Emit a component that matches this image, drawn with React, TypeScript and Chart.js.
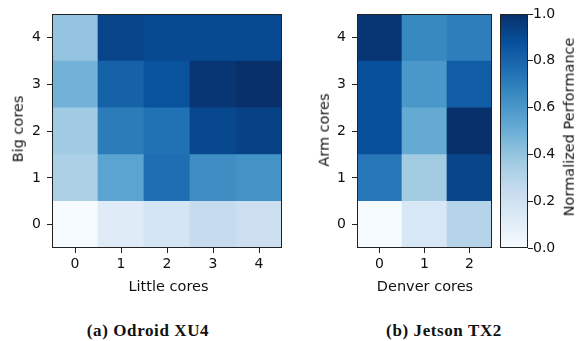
import React, { useEffect, useRef } from "react";
import { Chart, registerables } from "chart.js";

Chart.register(...registerables);

// ---- data ----
const LITTLE_CORES = ["0", "1", "2", "3", "4"];
const DENVER_CORES = ["0", "1", "2"];
const ROW_TICKS = [0, 1, 2, 3, 4];
const CBAR_TICKS = [0, 0.2, 0.4, 0.6, 0.8, 1.0];

// Odroid XU4: one array per "Big cores" row, indexed by little cores
const ODROID_BIG0 = [0.01, 0.12, 0.18, 0.25, 0.22];
const ODROID_BIG1 = [0.33, 0.55, 0.76, 0.64, 0.62];
const ODROID_BIG2 = [0.37, 0.71, 0.75, 0.91, 0.93];
const ODROID_BIG3 = [0.48, 0.81, 0.87, 0.98, 1.0];
const ODROID_BIG4 = [0.4, 0.92, 0.9, 0.9, 0.9];

// Jetson TX2: one array per "Arm cores" row, indexed by denver cores
const JETSON_ARM0 = [0.01, 0.16, 0.3];
const JETSON_ARM1 = [0.73, 0.36, 0.92];
const JETSON_ARM2 = [0.88, 0.52, 1.0];
const JETSON_ARM3 = [0.88, 0.6, 0.83];
const JETSON_ARM4 = [0.98, 0.66, 0.7];

const ODROID_ROWS = [ODROID_BIG0, ODROID_BIG1, ODROID_BIG2, ODROID_BIG3, ODROID_BIG4];
const JETSON_ROWS = [JETSON_ARM0, JETSON_ARM1, JETSON_ARM2, JETSON_ARM3, JETSON_ARM4];

// matplotlib "Blues" anchors
const BLUES: [number, number, number][] = [
  [247, 251, 255],
  [222, 235, 247],
  [198, 219, 239],
  [158, 202, 225],
  [107, 174, 214],
  [66, 146, 198],
  [33, 113, 181],
  [8, 81, 156],
  [8, 48, 107],
];

function blues(v: number): string {
  const t = Math.max(0, Math.min(1, v)) * (BLUES.length - 1);
  const i = Math.min(BLUES.length - 2, Math.floor(t));
  const f = t - i;
  const a = BLUES[i];
  const b = BLUES[i + 1];
  const c = a.map((x, k) => Math.round(x + (b[k] - x) * f));
  return `rgb(${c[0]},${c[1]},${c[2]})`;
}

const TEXT = "#111";
const FONT = { family: "'DejaVu Sans', sans-serif", size: 14 };

const boxPlugin = {
  id: "box",
  afterDraw(chart: any) {
    const { ctx, chartArea: a } = chart;
    ctx.save();
    ctx.strokeStyle = "#222";
    ctx.lineWidth = 1;
    ctx.strokeRect(Math.round(a.left) + 0.5, Math.round(a.top) + 0.5, Math.round(a.right - a.left) - 1, Math.round(a.bottom - a.top) - 1);
    ctx.restore();
  },
};

function heatmapConfig(labels: string[], rows: number[][], yWidth: number, padding: any) {
  return {
    type: "bar" as const,
    data: {
      labels,
      datasets: rows.map((vals, r) => ({
        label: String(r),
        data: vals.map(() => [r - 0.5, r + 0.5]),
        backgroundColor: vals.map(blues),
        borderWidth: 0,
        barPercentage: 1,
        categoryPercentage: 1,
        grouped: false,
      })),
    },
    options: {
      responsive: false,
      animation: false,
      layout: { padding },
      plugins: { legend: { display: false }, tooltip: { enabled: false } },
      scales: {
        x: {
          type: "category",
          offset: true,
          grid: { display: true, drawOnChartArea: false, drawTicks: true, tickLength: 5, tickColor: "#222", offset: false },
          border: { display: false },
          ticks: { color: TEXT, font: FONT, padding: 3, maxRotation: 0 },
          afterFit: (s: any) => { s.height = 52; },
        },
        y: {
          type: "linear",
          min: -0.5,
          max: 4.5,
          grid: { display: true, drawOnChartArea: false, drawTicks: true, tickLength: 5, tickColor: "#222" },
          border: { display: false },
          ticks: { color: TEXT, font: FONT, padding: 6 },
          afterBuildTicks: (s: any) => { s.ticks = ROW_TICKS.map((v) => ({ value: v })); },
          afterFit: (s: any) => { s.width = yWidth; },
        },
      },
    },
    plugins: [boxPlugin],
  };
}

function colorbarConfig() {
  return {
    type: "bar" as const,
    data: {
      labels: [""],
      datasets: [
        {
          data: [[0, 1]],
          backgroundColor: (c: any) => {
            const chart = c.chart;
            const a = chart.chartArea;
            if (!a) return blues(0.5);
            const g = chart.ctx.createLinearGradient(0, a.bottom, 0, a.top);
            BLUES.forEach((col, i) => g.addColorStop(i / (BLUES.length - 1), `rgb(${col[0]},${col[1]},${col[2]})`));
            return g;
          },
          borderWidth: 0,
          barPercentage: 1,
          categoryPercentage: 1,
        },
      ],
    },
    options: {
      responsive: false,
      animation: false,
      layout: { padding: { left: 5, top: 14, bottom: 52, right: 0 } },
      plugins: { legend: { display: false }, tooltip: { enabled: false } },
      scales: {
        x: { display: false },
        y: {
          position: "right",
          min: 0,
          max: 1,
          grid: { display: true, drawOnChartArea: false, drawTicks: true, tickLength: 5, tickColor: "#222" },
          border: { display: false },
          ticks: { color: TEXT, font: FONT, padding: 0, callback: (v: any) => Number(v).toFixed(1) },
          afterBuildTicks: (s: any) => { s.ticks = CBAR_TICKS.map((v) => ({ value: v })); },
          afterFit: (s: any) => { s.width = 51; },
        },
      },
    },
    plugins: [boxPlugin],
  };
}

function ChartCanvas({ config, left, width, height }: { config: () => any; left: number; width: number; height: number }) {
  const ref = useRef<HTMLCanvasElement>(null);
  useEffect(() => {
    const chart = new Chart(ref.current as HTMLCanvasElement, config());
    return () => chart.destroy();
  }, []);
  return <canvas ref={ref} width={width} height={height} style={{ position: "absolute", left, top: 0, width, height }} />;
}

function Label({ x, y, text, rotate, style }: { x: number; y: number; text: string; rotate?: boolean; style?: any }) {
  return (
    <div
      style={{
        position: "absolute",
        left: x,
        top: y,
        transform: `translate(-50%, -50%)${rotate ? " rotate(-90deg)" : ""}`,
        whiteSpace: "nowrap",
        fontFamily: "'DejaVu Sans', sans-serif",
        fontSize: 14.5,
        color: TEXT,
        lineHeight: 1,
        ...style,
      }}
    >
      {text}
    </div>
  );
}

export default function App() {
  const caption = { fontFamily: "'Liberation Serif', serif", fontWeight: "bold", fontSize: 17, letterSpacing: 0.6, color: "#111" };
  return (
    <div style={{ position: "absolute", left: 0, top: 0, width: 579, height: 341, background: "#fff", overflow: "hidden" }}>
      <ChartCanvas left={0} width={300} height={300} config={() => heatmapConfig(LITTLE_CORES, ODROID_ROWS, 52, { top: 8, right: 18, left: 0, bottom: 0 })} />
      <ChartCanvas left={300} width={200} height={300} config={() => heatmapConfig(DENVER_CORES, JETSON_ROWS, 57, { top: 14, right: 8, left: 0, bottom: 0 })} />
      <ChartCanvas left={495} width={84} height={300} config={colorbarConfig} />
      <Label x={18} y={129} text="Big cores" rotate />
      <Label x={168.5} y={286} text="Little cores" />
      <Label x={324} y={130} text="Arm cores" rotate />
      <Label x={425} y={286} text="Denver cores" />
      <Label x={569} y={127} text="Normalized Performance" rotate />
      <Label x={148} y={330} text="(a) Odroid XU4" style={caption} />
      <Label x={444} y={330} text="(b) Jetson TX2" style={caption} />
    </div>
  );
}
